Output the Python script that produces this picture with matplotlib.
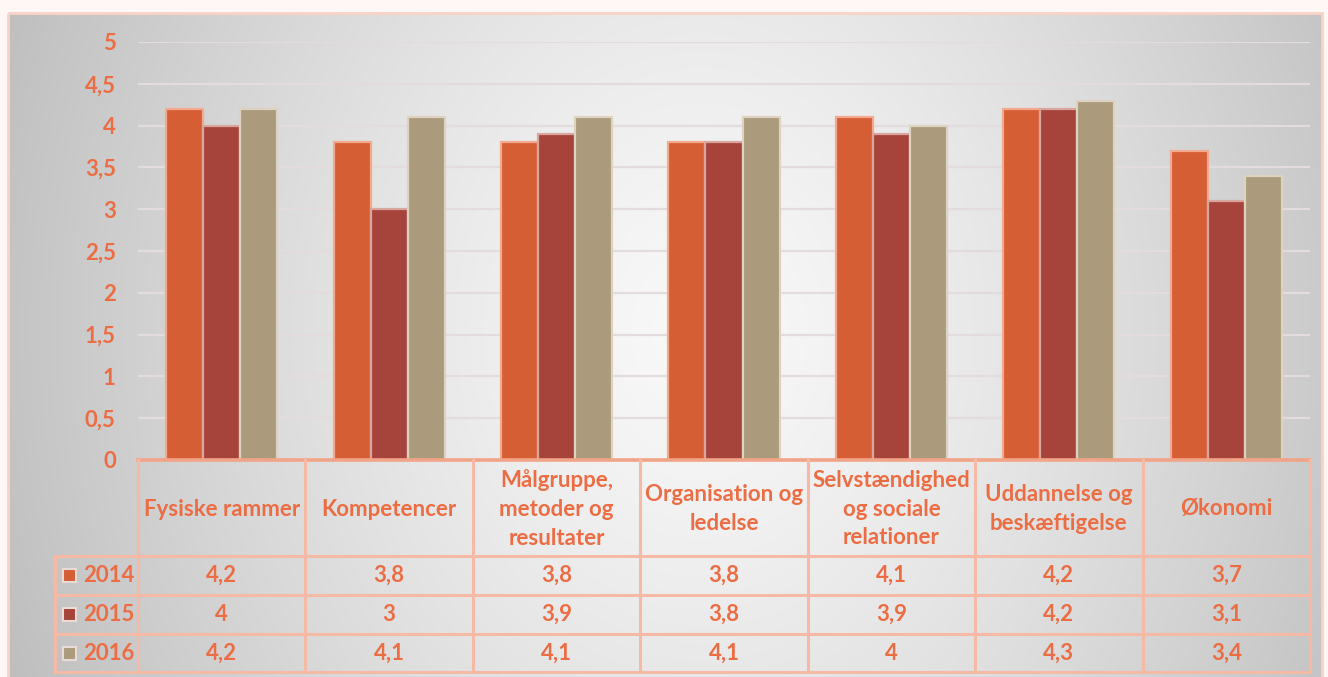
import numpy as np
import matplotlib
matplotlib.use("Agg")
import matplotlib.pyplot as plt
from matplotlib.patches import Rectangle

# ---- data ----
categories = ["Fysiske rammer", "Kompetencer", "Målgruppe,\nmetoder og\nresultater",
              "Organisation og\nledelse", "Selvstændighed\nog sociale\nrelationer",
              "Uddannelse og\nbeskæftigelse", "Økonomi"]
years = ["2014", "2015", "2016"]
v2014 = [4.2, 3.8, 3.8, 3.8, 4.1, 4.2, 3.7]
v2015 = [4.0, 3.0, 3.9, 3.8, 3.9, 4.2, 3.1]
v2016 = [4.2, 4.1, 4.1, 4.1, 4.0, 4.3, 3.4]
yticks = [0, 0.5, 1, 1.5, 2, 2.5, 3, 3.5, 4, 4.5, 5]
series = [v2014, v2015, v2016]
colors = ["#d65e35", "#a6443b", "#ab9a7b"]
edges = ["#f3a98f", "#d9a59f", "#ddd3c0"]
txt = "#ec6d43"
line = "#f6b9a6"
FONT = "Lato"
FS = 16

W, H = 1328, 677
fig = plt.figure(figsize=(W / 100, H / 100), dpi=100)
fig.patch.set_facecolor("#fff7f6")

# ---- gradient background box ----
bx0, by0, bx1, by1 = 8, 13, 1322, 677
bg = fig.add_axes([bx0 / W, 1 - by1 / H, (bx1 - bx0) / W, (by1 - by0) / H])
xx, yy = np.meshgrid(np.arange(bx0, bx1), np.arange(by0, by1))
r = np.sqrt(((xx - 700) / 700.0) ** 2 + ((yy - 330) / 850.0) ** 2)
g = 0.975 - 0.21 * np.clip(r, 0, 1.2) ** 1.3
img = np.dstack([g, g, g])
bg.imshow(img, aspect="auto", extent=(0, 1, 0, 1), interpolation="bilinear")
bg.set_axis_off()

# ---- overlay in pixel coordinates ----
ov = fig.add_axes([0, 0, 1, 1], zorder=3)
ov.set_xlim(0, W)
ov.set_ylim(H, 0)
ov.set_axis_off()
ov.patch.set_alpha(0)
ov.add_patch(Rectangle((bx0, by0), bx1 - bx0, by1 - by0 + 5, fill=False,
                       edgecolor="#f9d3c8", lw=2))

# ---- main bar axes ----
L, R, Y0, Y5 = 138, 1310, 460, 42
ax = fig.add_axes([L / W, 1 - Y0 / H, (R - L) / W, (Y0 - Y5) / H], zorder=2)
ax.patch.set_alpha(0)
n = len(categories)
x = np.arange(n)
bw = 0.221
for k, (vals, c, e) in enumerate(zip(series, colors, edges)):
    ax.bar(x + (k - 1) * bw, vals, width=bw, color=c, edgecolor=e, linewidth=1.6,
           zorder=3, label=years[k])
ax.set_xlim(-0.5, n - 0.5)
ax.set_ylim(0, 5)
ax.set_yticks(yticks)
ax.set_yticklabels([f"{t:g}".replace(".", ",") for t in yticks],
                   fontsize=FS, fontweight="bold", color=txt, fontfamily=FONT)
ax.tick_params(axis="y", length=0, pad=16)
ax.set_xticks([])
for t in yticks[1:]:
    ax.axhline(t, color="#e4dcdc", lw=1.6, zorder=1)
for s in ax.spines.values():
    s.set_visible(False)

# ---- data table ----
colw = (R - L) / n
bounds = [L + i * colw for i in range(n + 1)]
hdr_top, hdr_bot = 460, 556
row_edges = [556, 595, 634, 672]
legx = 55
lw = 2.2
ov.plot([L, R], [hdr_top, hdr_top], color="#f2a488", lw=2.6)
for b in bounds:
    ov.plot([b, b], [hdr_top, row_edges[-1]], color=line, lw=lw)
ov.plot([legx, legx], [row_edges[0], row_edges[-1]], color=line, lw=lw)
for ye in row_edges:
    ov.plot([legx, R], [ye, ye], color=line, lw=lw)

for i, cat in enumerate(categories):
    cx = (bounds[i] + bounds[i + 1]) / 2
    ov.text(cx, (hdr_top + hdr_bot) / 2 + 1, cat, ha="center", va="center",
            fontsize=FS, fontweight="bold", color=txt, fontfamily=FONT,
            linespacing=1.45)

for k, vals in enumerate(series):
    cy = (row_edges[k] + row_edges[k + 1]) / 2
    ov.add_patch(Rectangle((63, cy - 6.5), 13, 13, facecolor=colors[k],
                           edgecolor="#e9dcd6", lw=1.5))
    ov.text(83, cy, years[k], ha="left", va="center", fontsize=FS,
            fontweight="bold", color=txt, fontfamily=FONT)
    for i, v in enumerate(vals):
        cx = (bounds[i] + bounds[i + 1]) / 2
        ov.text(cx, cy, f"{v:g}".replace(".", ","), ha="center", va="center",
                fontsize=FS, fontweight="bold", color=txt, fontfamily=FONT)

fig.savefig("out.png", dpi=100, facecolor=fig.get_facecolor())
